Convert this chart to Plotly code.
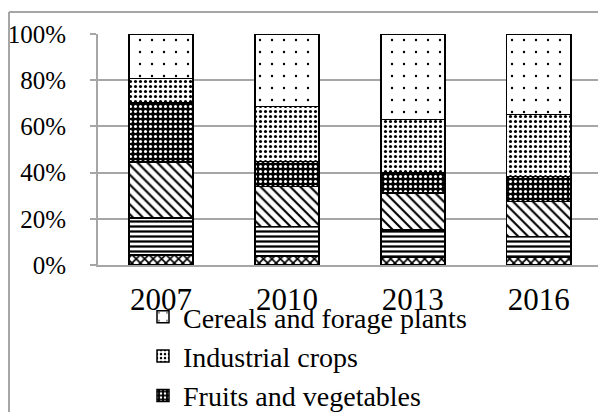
import plotly.graph_objects as go

years = ["2007", "2010", "2013", "2016"]

# shares in percent, bottom of the stack first
other_crops = [4.3, 3.9, 3.3, 3.2]
vineyards = [16.0, 12.8, 11.9, 9.1]
olive_groves = [24.3, 17.3, 16.0, 15.2]
fruits_vegetables = [25.7, 10.9, 8.7, 10.9]
industrial_crops = [10.4, 23.7, 23.1, 26.8]
cereals_forage = [19.3, 31.4, 37.0, 34.8]

series = [
    ("Other crops", other_crops, dict(shape="x", size=6, solidity=0.5, fgcolor="black", bgcolor="white"), False),
    ("Vineyards", vineyards, dict(shape="-", size=5, solidity=0.45, fgcolor="black", bgcolor="white"), False),
    ("Olive groves", olive_groves, dict(shape="\\", size=7, solidity=0.3, fgcolor="black", bgcolor="white"), False),
    ("Fruits and vegetables", fruits_vegetables, dict(shape=".", size=5, solidity=0.3, fgcolor="white", bgcolor="black"), True),
    ("Industrial crops", industrial_crops, dict(shape=".", size=5, solidity=0.3, fgcolor="black", bgcolor="white"), True),
    ("Cereals and forage plants", cereals_forage, dict(shape=".", size=12, solidity=0.03, fgcolor="black", bgcolor="white"), True),
]

fig = go.Figure()
for name, vals, pat, show in series:
    fig.add_trace(go.Bar(
        x=years, y=vals, name=name, showlegend=show,
        marker=dict(color="white", pattern=dict(fillmode="replace", **pat),
                    line=dict(color="black", width=1.5)),
    ))

W, H = 598, 412
L, T, B = 98, 34, 147
pw, ph = W - L, H - T - B
FONT = "Liberation Serif"

def px(x):
    return (x - L) / pw

def py(y):
    return (H - B - y) / ph

fig.update_layout(
    width=W, height=H,
    margin=dict(l=L, r=0, t=T, b=B, pad=0, autoexpand=False),
    barmode="stack", barnorm="fraction", bargap=0.49,
    paper_bgcolor="white", plot_bgcolor="white",
    font=dict(family=FONT, color="black"),
    legend=dict(
        x=px(143), y=py(292), xanchor="left", yanchor="top",
        traceorder="reversed", font=dict(size=28, family=FONT),
        bgcolor="rgba(0,0,0,0)", tracegroupgap=0, itemwidth=30,
    ),
    xaxis=dict(
        range=[-0.5, 3.47], showgrid=False, showline=True, linecolor="#a6a6a6",
        linewidth=2, ticks="", tickfont=dict(size=31, family=FONT),
        ticklabelstandoff=6, automargin=False,
    ),
    yaxis=dict(
        range=[0, 1], dtick=0.2, tickformat=".0%", showgrid=True,
        gridcolor="#a6a6a6", gridwidth=2, showline=True, linecolor="#a6a6a6",
        linewidth=2, ticks="outside", ticklen=6, tickcolor="#a6a6a6", tickwidth=2,
        tickfont=dict(size=25, family=FONT), ticklabelstandoff=19,
        zeroline=False, automargin=False,
    ),
    shapes=[
        dict(type="line", xref="paper", yref="paper", x0=px(9), x1=px(9),
             y0=py(12), y1=py(430), line=dict(color="#a6a6a6", width=2)),
        dict(type="line", xref="paper", yref="paper", x0=px(9), x1=px(620),
             y0=py(12), y1=py(12), line=dict(color="#a6a6a6", width=2)),
    ],
)

fig.write_html(
    "out.html",
    config={"displayModeBar": False},
    post_script="document.body.style.margin='0';document.body.style.overflow='hidden';",
)
